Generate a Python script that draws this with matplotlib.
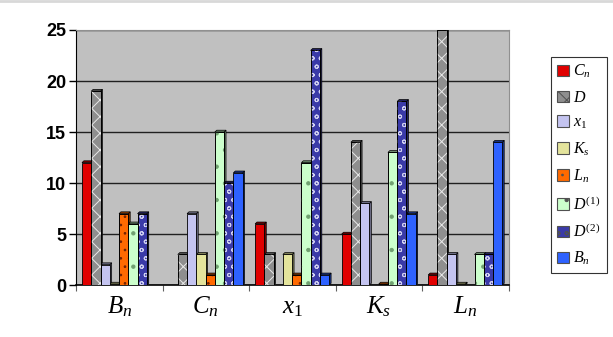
import numpy as np
import matplotlib.pyplot as plt
from matplotlib.patches import Polygon
from matplotlib.lines import Line2D
import matplotlib.colors as mcolors

plt.rcParams['mathtext.fontset'] = 'custom'
plt.rcParams['mathtext.it'] = 'Liberation Serif:italic'
plt.rcParams['mathtext.rm'] = 'Liberation Serif'
plt.rcParams['hatch.linewidth'] = 0.7

categories = [r'$B_n$', r'$C_n$', r'$x_1$', r'$K_s$', r'$L_n$']
series_names = [r'$C_n$', r'$D$', r'$x_1$', r'$K_s$', r'$L_n$',
                r'$D^{(1)}$', r'$D^{(2)}$', r'$B_n$']

# 0 = no bar drawn, 0.1 = flat bar just visible on the axis
Cn = [12, 0, 6, 5, 1]
D = [19, 3, 3, 14, 25]
x1 = [2, 7, 0, 8, 3]
Ks = [0.1, 3, 3, 0, 0.1]
Ln = [7, 1, 1, 0.1, 0]
D1 = [6, 15, 12, 13, 3]
D2 = [7, 10, 23, 18, 3]
Bn = [0, 11, 1, 7, 14]
values = [Cn, D, x1, Ks, Ln, D1, D2, Bn]

colors = ['#E00000', '#8E8E8E', '#C4C4F0', '#E4E49C', '#FF6A00',
          '#CCFFCC', '#3A3AA8', '#2E62FF']
hatches = [None, 'xx', None, None, '..', '.', 'oo', None]
hatch_cols = [None, '#E8E8E8', None, None, '#702000', '#70A070', '#D0D0F0', None]

fig = plt.figure(figsize=(6.13, 3.37), dpi=100)
ax = fig.add_axes([0.124, 0.154, 0.706, 0.757])
ax.set_facecolor('#C0C0C0')

w = 0.107
start = -0.431
dx, dy = 0.022, 0.18

for j, vals in enumerate(values):
    for i, v in enumerate(vals):
        if v == 0:
            continue
        x0 = i + start + j * w
        dark = tuple(c * 0.55 for c in mcolors.to_rgb(colors[j]))
        side = Polygon([(x0 + w, 0), (x0 + w + dx, dy),
                        (x0 + w + dx, v + dy), (x0 + w, v)],
                       closed=True, facecolor=dark, edgecolor='black',
                       linewidth=0.5, zorder=3)
        ax.add_patch(side)
        top = Polygon([(x0, v), (x0 + dx, v + dy),
                       (x0 + w + dx, v + dy), (x0 + w, v)],
                      closed=True, facecolor=dark, edgecolor='black',
                      linewidth=0.5, zorder=3)
        ax.add_patch(top)
        ax.bar(x0, v, width=w, align='edge', facecolor=colors[j],
               edgecolor='black', linewidth=0.6, zorder=4)
        if hatches[j]:
            with plt.rc_context({'hatch.color': hatch_cols[j]}):
                ax.bar(x0, v, width=w, align='edge', facecolor='none',
                       edgecolor=hatch_cols[j], hatch=hatches[j],
                       linewidth=0, zorder=5)
            ax.bar(x0, v, width=w, align='edge', facecolor='none',
                   edgecolor='black', linewidth=0.6, zorder=6)

ax.set_xlim(-0.5, 4.5)
ax.set_ylim(0, 25)
ax.set_yticks([0, 5, 10, 15, 20, 25])
ax.set_yticklabels(['0', '5', '10', '15', '20', '25'],
                   fontfamily='Liberation Sans', fontweight='bold', fontsize=13)
ax.yaxis.grid(True, color='#202020', linewidth=1.0)
ax.set_axisbelow(True)
ax.set_xticks(np.arange(-0.5, 5, 1))
ax.set_xticklabels([])
ax.set_xticks(range(5), minor=True)
ax.set_xticklabels(categories, minor=True, fontsize=18)
ax.tick_params(axis='x', which='minor', length=0, pad=7)
ax.tick_params(axis='x', which='major', length=4, color='#606060')
ax.tick_params(axis='y', length=5, width=1, pad=2)

for s in ['top', 'right']:
    ax.spines[s].set_color('#909090')
ax.spines['left'].set_color('black')
ax.spines['bottom'].set_color('black')
ax.spines['bottom'].set_linewidth(1.2)

handles = []
for j in range(8):
    with plt.rc_context({'hatch.color': hatch_cols[j] or 'black'}):
        h = plt.Rectangle((0, 0), 1, 1, facecolor=colors[j],
                          edgecolor='#505050', hatch=hatches[j], linewidth=0.8)
    handles.append(h)
leg = fig.legend(handles, series_names, loc='upper left',
                 bbox_to_anchor=(0.899, 0.832), frameon=True, fancybox=False,
                 edgecolor='black', fontsize=11.5, handlelength=0.7,
                 handleheight=0.7, labelspacing=0.6, borderpad=0.4,
                 handletextpad=0.3, borderaxespad=0)
leg.get_frame().set_linewidth(0.8)

fig.add_artist(Line2D([0, 1], [0.997, 0.997], color='#D8D8D8', linewidth=2,
                      transform=fig.transFigure))

fig.savefig('out.png', dpi=100)
